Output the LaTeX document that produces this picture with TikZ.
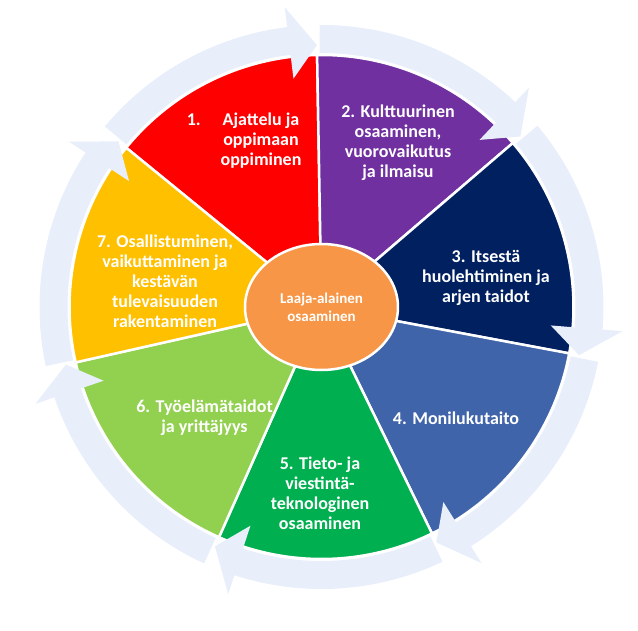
\documentclass[tikz,border=0pt]{standalone}
\usepackage{fontspec}
\setmainfont{Carlito}
\usepackage{tikz}
\usepackage{xcolor}
\usetikzlibrary{shapes.geometric, positioning, calc}
\definecolor{segRed}{RGB}{255,0,0}
\definecolor{segPurple}{RGB}{112,48,160}
\definecolor{segNavy}{RGB}{0,32,96}
\definecolor{segBlue}{RGB}{64,100,170}
\definecolor{segGreen}{RGB}{0,176,80}
\definecolor{segLime}{RGB}{146,208,80}
\definecolor{segGold}{RGB}{255,192,0}
\definecolor{coreOrange}{RGB}{247,150,70}
\definecolor{ringBlue}{RGB}{232,238,250}

\begin{document}
\begin{tikzpicture}[x=1pt, y=1pt,
    wedge/.style={fill=#1, draw=white, line width=2.5pt, line join=round},
    ring/.style={fill=ringBlue},
    seglbl/.style={font=\bfseries\fontsize{18}{20}\selectfont, text=white, align=center},
    core/.style={ellipse, draw=white, line width=2.5pt, fill=coreOrange,
                 minimum width=153pt, minimum height=126pt, inner sep=0pt,
                 font=\bfseries\fontsize{15}{18}\selectfont, text=white, align=center}
  ]
    \useasboundingbox (-321.5,-323) rectangle (316.5,307);

    % Segments
    \foreach \a/\b/\col in {140.8/91/segRed, 91/40.6/segPurple, 40.6/-10.6/segNavy,
                            -10.6/-64/segBlue, -64/-114/segGreen, -114/-167.3/segLime,
                            192.7/140.8/segGold}
      \draw[wedge=\col] (0,0) -- (\a:252pt) arc[start angle=\a, end angle=\b, radius=252pt] -- cycle;

    % Ring arrows (tail at a, head at b)
    \foreach \a/\b in {140.8/91, 91/40.6, 40.6/-10.6, -10.6/-64, -64/-114,
                       -114/-167.3, 192.7/140.8}
      \fill[ring] (\a-0.6:282pt) arc[start angle=\a-0.6, end angle=\b+6, radius=282pt]
        -- (\b+6:302pt) -- (\b:262pt) -- (\b+6:230pt) -- (\b+6:254pt)
        arc[start angle=\b+6, end angle=\a-0.6, radius=254pt] -- cycle;

    % Labels
    \node[seglbl] (k1) at (-60.5,166) {\llap{1.\hspace{22pt}}Ajattelu ja\\oppimaan\\oppiminen};
    \node[seglbl] (k2) at (76.5,164) {2. Kulttuurinen\\osaaminen,\\vuorovaikutus\\ja ilmaisu};
    \node[seglbl] (k3) at (164.5,29) {3. Itsestä\\huolehtiminen ja\\arjen taidot};
    \node[seglbl] (k4) at (134.5,-111) {4. Monilukutaito};
    \node[seglbl] (k5) at (-1.5,-186) {5. Tieto- ja\\viestintä-\\teknologinen\\osaaminen};
    \node[seglbl] (k6) at (-117,-111) {6. Työelämätaidot\\ja yrittäjyys};
    \node[seglbl] (k7) at (-156.5,26) {7. Osallistuminen,\\vaikuttaminen ja\\kestävän\\tulevaisuuden\\rakentaminen};

    % Centre
    \node[core] (core) at (0,0) {Laaja-alainen\\osaaminen};

  \end{tikzpicture}
\end{document}
